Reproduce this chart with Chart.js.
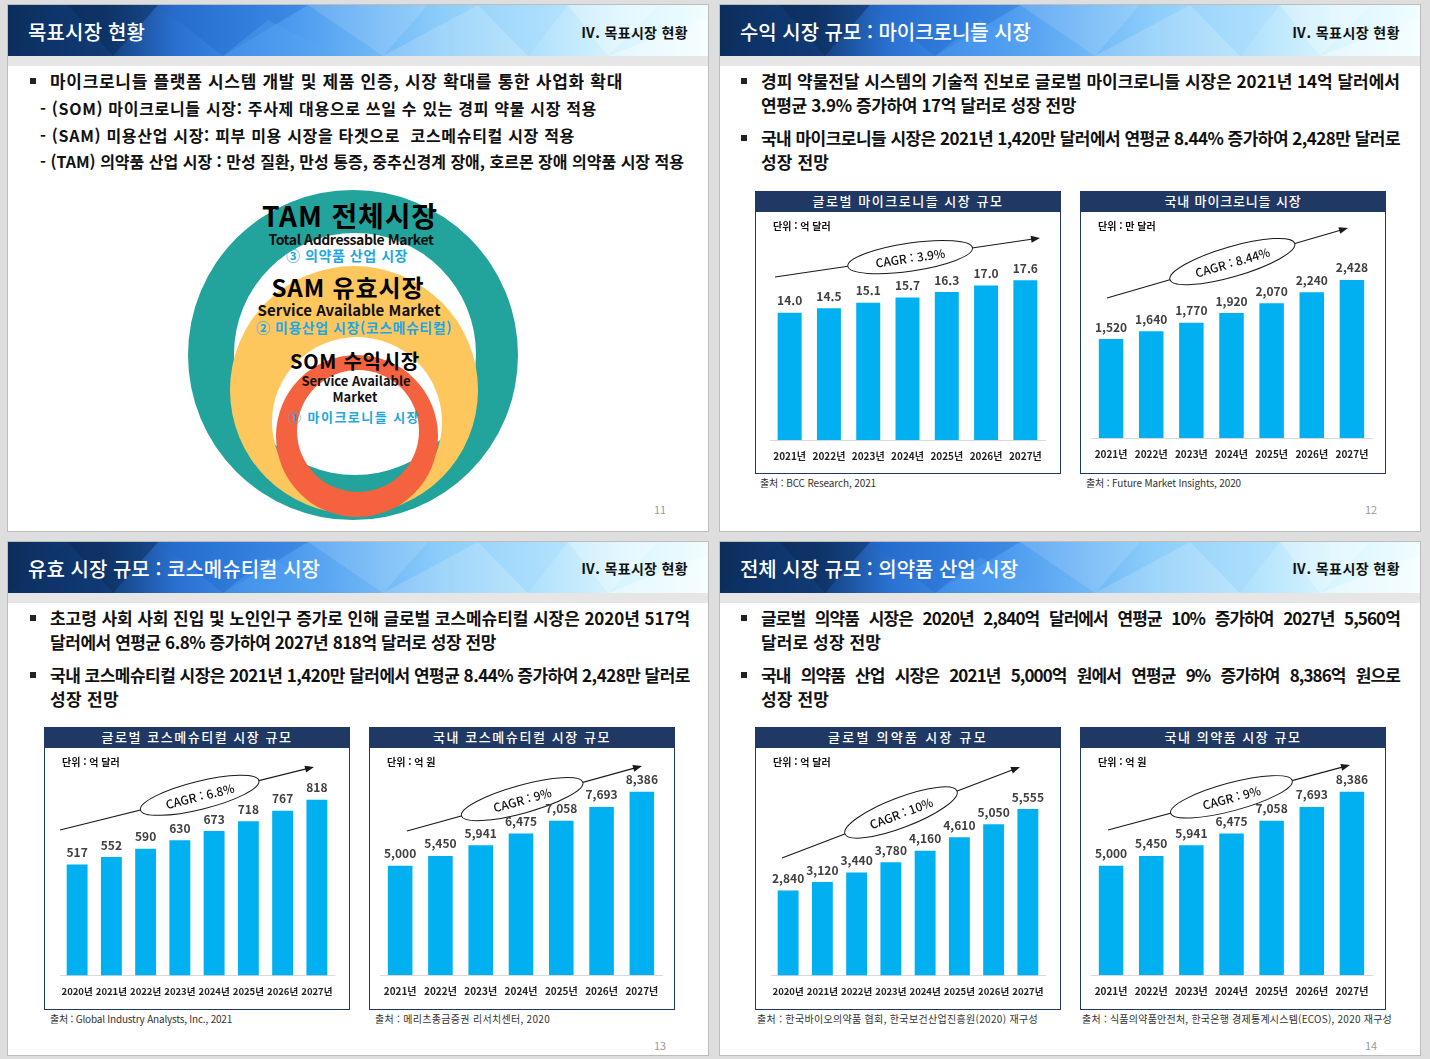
<!DOCTYPE html>
<html lang="ko">
<head>
<meta charset="utf-8">
<title>목표시장 현황</title>
<script src="https://cdn.jsdelivr.net/npm/chart.js@4.4.1/dist/chart.umd.min.js"></script>
<style>
html,body{margin:0;padding:0}
body{width:1430px;height:1059px;background:#dedede;position:relative;overflow:hidden;font-family:"Noto Sans CJK KR","Noto Sans",sans-serif;color:#111}
.panel{position:absolute;width:700px;background:#fff;box-shadow:0 0 0 1px #bdbdbd;overflow:hidden}
.hdr{position:absolute;left:0;top:0;width:700px;height:51px;overflow:hidden;background:linear-gradient(90deg,#0b2d5b 0%,#123f7c 14%,#2a70d0 24%,#3f8fec 36%,#62acf4 48%,#8ccdfa 62%,#b3e2fc 76%,#daf5fe 88%,#f0fdff 100%)}
.strip{position:absolute;left:0;top:51px;width:700px;height:10px;background:#e6e6e6}
.t{position:absolute;white-space:pre;line-height:1;z-index:5}
.bul{position:absolute;width:6px;height:6px;background:#222;z-index:5}
.box{position:absolute;width:306px;height:283px;box-sizing:border-box;border:1.5px solid #1f3864;background:#fff;z-index:3}
.boxt{position:absolute;left:0;top:0;right:0;height:20px;background:#1f3864}
canvas.cv{position:absolute;z-index:4}
svg.rings{position:absolute;left:0;top:0;z-index:2}
</style>
</head>
<body>
<script>
// ---------------- DATA ----------------
const yearsFrom2021 = ['2021년','2022년','2023년','2024년','2025년','2026년','2027년'];
const yearsFrom2020 = ['2020년','2021년','2022년','2023년','2024년','2025년','2026년','2027년'];
const microGlobalValues   = [14.0, 14.5, 15.1, 15.7, 16.3, 17.0, 17.6];
const microDomesticValues = [1520, 1640, 1770, 1920, 2070, 2240, 2428];
const cosmeGlobalValues   = [517, 552, 590, 630, 673, 718, 767, 818];
const cosmeDomesticValues = [5000, 5450, 5941, 6475, 7058, 7693, 8386];
const pharmaGlobalValues  = [2840, 3120, 3440, 3780, 4160, 4610, 5050, 5555];
const pharmaDomesticValues= [5000, 5450, 5941, 6475, 7058, 7693, 8386];
const cagrLabels = ['CAGR : 3.9%', 'CAGR : 8.44%', 'CAGR : 6.8%', 'CAGR : 9%', 'CAGR : 10%', 'CAGR : 9%'];
const boxTitles = ['글로벌 마이크로니들 시장 규모','국내 마이크로니들 시장','글로벌 코스메슈티컬 시장 규모','국내 코스메슈티컬 시장 규모','글로벌 의약품 시장 규모','국내 의약품 시장 규모'];
const unitLabels = ['단위 : 억 달러','단위 : 만 달러','단위 : 억 달러','단위 : 억 원','단위 : 억 달러','단위 : 억 원'];
const sourceLabels = ['출처 : BCC Research, 2021','출처 : Future Market Insights, 2020','출처 : Global Industry Analysts, Inc., 2021','출처 : 메리츠종금증권 리서치센터, 2020','출처 : 한국바이오의약품 협회, 한국보건산업진흥원(2020) 재구성','출처 : 식품의약품안전처, 한국은행 경제통계시스템(ECOS), 2020 재구성'];

// ---------------- LAYOUT ----------------
const body = document.body;
const panels = [[8,5,526],[720,5,526],[8,542,513],[720,542,513]];
const tris = [
  [[60,0],[150,0],[105,51],'#08264d',.45],[[0,51],[60,0],[105,51],'#0d3569',.35],
  [[150,0],[300,0],[215,51],'#1f66c8',.35],[[215,51],[260,15],[330,51],'#5aa6f2',.35],
  [[300,0],[420,0],[375,51],'#ffffff',.12],[[375,51],[470,0],[520,51],'#ffffff',.16],
  [[470,0],[560,0],[520,51],'#9fd8fb',.35],[[560,0],[650,0],[600,51],'#ffffff',.25],
  [[600,51],[700,12],[700,51],'#ffffff',.35]
];
panels.forEach(([x,y,h])=>{
  const p=document.createElement('div'); p.className='panel';
  p.style.left=x+'px'; p.style.top=y+'px'; p.style.height=h+'px';
  let svg='<svg width="700" height="51" xmlns="http://www.w3.org/2000/svg">';
  tris.forEach(t=>{svg+=`<polygon points="${t[0].join(',')} ${t[1].join(',')} ${t[2].join(',')}" fill="${t[3]}" opacity="${t[4]}"/>`;});
  svg+='</svg>';
  p.innerHTML='<div class="hdr">'+svg+'</div><div class="strip"></div>';
  body.appendChild(p);
});

// rings diagram (decorative)
function circ(cx,cy,r){return `M${cx-r},${cy} a${r},${r} 0 1,0 ${2*r},0 a${r},${r} 0 1,0 ${-2*r},0 Z `;}
const ringsSvg = `<svg class="rings" width="720" height="540" xmlns="http://www.w3.org/2000/svg">
<path fill-rule="evenodd" fill="#22a39b" d="${circ(353,355,165)}${circ(355,354,121)}"/>
<path fill-rule="evenodd" fill="#fec75e" d="${circ(354,390,124)}${circ(357,422,85)}"/>
<path fill-rule="evenodd" fill="#f4623f" d="${circ(357,436,81)}${circ(358,431,61)}"/>
</svg>`;
body.insertAdjacentHTML('beforeend', ringsSvg);

const fits=[];
function txt(s,x,yc,size,weight,color,endX,mode,extra){
  const d=document.createElement('div'); d.className='t'; d.textContent=s;
  d.style.left=x+'px'; d.style.top=(yc-size*0.55)+'px';
  d.style.fontSize=size+'px'; d.style.fontWeight=weight; d.style.color=color;
  if(extra) Object.assign(d.style,extra);
  body.appendChild(d);
  if(endX) fits.push([d,endX-x,mode]);
  return d;
}
function bul(x,yc){const b=document.createElement('div');b.className='bul';b.style.left=x+'px';b.style.top=(yc-3)+'px';body.appendChild(b);}
function ctr(s,cx,yc,size,weight,color,w){ // centered text fitted to width w
  return txt(s,cx-w/2,yc,size,weight,color,cx+w/2,'letter');
}

// Panel 1
txt('목표시장 현황',28,33,20,500,'#fff',145);
txt('Ⅳ. 목표시장 현황',581,33,14,700,'#111',688);
bul(30,81);
txt('마이크로니들 플랫폼 시스템 개발 및 제품 인증, 시장 확대를 통한 사업화 확대',50,81,17,700,'#111',623);
txt('- (SOM) 마이크로니들 시장: 주사제 대용으로 쓰일 수 있는 경피 약물 시장 적용',40,109,16,700,'#111',597);
txt('- (SAM) 미용산업 시장: 피부 미용 시장을 타겟으로  코스메슈티컬 시장 적용',40,136,16,700,'#111',575);
txt('- (TAM) 의약품 산업 시장 : 만성 질환, 만성 통증, 중추신경계 장애, 호르몬 장애 의약품 시장 적용',40,162,16,700,'#111',684);
ctr('TAM 전체시장',350,216,28,700,'#000',176);
ctr('Total Addressable Market',351,240,14,700,'#111',165);
ctr('③ 의약품 산업 시장',347,256,14,700,'#1ea7e1',122);
ctr('SAM 유효시장',348,288,24,700,'#000',153);
ctr('Service Available Market',349,310,15,700,'#111',183);
ctr('② 미용산업 시장(코스메슈티컬)',354,328,14,700,'#1ea7e1',196);
ctr('SOM 수익시장',355,362,20,700,'#000',130);
ctr('Service Available',356,381,13,700,'#111',109);
ctr('Market',355,397,13,700,'#111',45);
ctr('① 마이크로니들 시장',354,417,13,700,'#1ea7e1',132);
txt('11',654,510,11,400,'#9a9a9a');

// Panel 2
txt('수익 시장 규모 : 마이크로니들 시장',740,33,20,500,'#fff',1031);
txt('Ⅳ. 목표시장 현황',1292,33,14,700,'#111',1400);
bul(741,81); bul(741,138);
txt('경피 약물전달 시스템의 기술적 진보로 글로벌 마이크로니들 시장은 2021년 14억 달러에서',761,81,17,700,'#111',1400);
txt('연평균 3.9% 증가하여 17억 달러로 성장 전망',761,105,17,700,'#111',1076);
txt('국내 마이크로니들 시장은 2021년 1,420만 달러에서 연평균 8.44% 증가하여 2,428만 달러로',761,138,17,700,'#111',1400);
txt('성장 전망',761,162,17,700,'#111',829);
txt('12',1365,510,11,400,'#9a9a9a');

// Panel 3
txt('유효 시장 규모 : 코스메슈티컬 시장',28,570,20,500,'#fff',320);
txt('Ⅳ. 목표시장 현황',581,569,14,700,'#111',688);
bul(30,618); bul(30,675);
txt('초고령 사회 사회 진입 및 노인인구 증가로 인해 글로벌 코스메슈티컬 시장은 2020년 517억',50,618,17,700,'#111',690);
txt('달러에서 연평균 6.8% 증가하여 2027년 818억 달러로 성장 전망',50,642,17,700,'#111',496);
txt('국내 코스메슈티컬 시장은 2021년 1,420만 달러에서 연평균 8.44% 증가하여 2,428만 달러로',50,675,17,700,'#111',690);
txt('성장 전망',50,699,17,700,'#111',119);
txt('13',654,1046,11,400,'#9a9a9a');

// Panel 4
txt('전체 시장 규모 : 의약품 산업 시장',740,570,20,500,'#fff',1018);
txt('Ⅳ. 목표시장 현황',1292,569,14,700,'#111',1400);
bul(741,618); bul(741,675);
txt('글로벌 의약품 시장은 2020년 2,840억 달러에서 연평균 10% 증가하여 2027년 5,560억',761,618,17,700,'#111',1400,'word',{letterSpacing:'-0.9px'});
txt('달러로 성장 전망',761,642,17,700,'#111',881);
txt('국내 의약품 산업 시장은 2021년 5,000억 원에서 연평균 9% 증가하여 8,386억 원으로',761,675,17,700,'#111',1400,'word',{letterSpacing:'-0.9px'});
txt('성장 전망',761,699,17,700,'#111',829);
txt('14',1365,1046,11,400,'#9a9a9a');

// ---------------- CHART PLUGINS ----------------
const cagrArrow = {
  id:'cagrArrow',
  afterDatasetsDraw(chart,args,o){
    if(!o || !o.text) return;
    const a=chart.chartArea, ctx=chart.ctx;
    const x1=a.left+o.sx, y1=a.top+o.sy, x2=a.left+o.ex, y2=a.top+o.ey;
    const ang=Math.atan2(y2-y1,x2-x1), c=Math.cos(ang), s=Math.sin(ang);
    ctx.save();
    ctx.strokeStyle='#1a1a1a'; ctx.fillStyle='#1a1a1a'; ctx.lineWidth=1.2;
    ctx.beginPath(); ctx.moveTo(x1,y1); ctx.lineTo(x2-7*c,y2-7*s); ctx.stroke();
    ctx.beginPath(); ctx.moveTo(x2,y2);
    ctx.lineTo(x2-9*c+3.5*s, y2-9*s-3.5*c); ctx.lineTo(x2-9*c-3.5*s, y2-9*s+3.5*c); ctx.closePath(); ctx.fill();
    const cx=x1+(x2-x1)*o.t, cy=y1+(y2-y1)*o.t;
    ctx.translate(cx,cy); ctx.rotate(ang);
    ctx.beginPath(); ctx.ellipse(0,0,o.rx,o.ry,0,0,Math.PI*2);
    ctx.fillStyle='#fff'; ctx.fill(); ctx.lineWidth=1; ctx.stroke();
    ctx.fillStyle='#111'; ctx.font='500 12px "Noto Sans CJK KR"'; ctx.textAlign='center'; ctx.textBaseline='middle';
    ctx.fillText(o.text,0,1);
    ctx.restore();
  }
};
const valueLabels = {
  id:'valueLabels',
  afterDatasetsDraw(chart,args,o){
    const ctx=chart.ctx, meta=chart.getDatasetMeta(0), vals=chart.data.datasets[0].data;
    ctx.save(); ctx.font='bold 12px "Noto Sans CJK KR"'; ctx.fillStyle='#404040';
    ctx.textAlign='center'; ctx.textBaseline='bottom';
    meta.data.forEach((bar,i)=>{
      const v=vals[i];
      const s = o.format==='dec1' ? v.toFixed(1) : o.format==='comma' ? v.toLocaleString('en-US') : String(v);
      ctx.fillText(s, bar.x, bar.y-6);
    });
    ctx.restore();
  }
};

// chart specs: box position, target chart area (page px), y max, arrow geometry (relative to chart area)
const specs = [
  {box:[755,191], labels:yearsFrom2021, values:microGlobalValues,   fmt:'dec1',  area:[770,1045,232,440], max:22.9,
   cagr:{sx:5,sy:45,ex:270,ey:6,t:0.51,rx:63,ry:14}, src:[760,483,876]},
  {box:[1080,191], labels:yearsFrom2021, values:microDomesticValues, fmt:'comma', area:[1091,1372,232,438], max:3164,
   cagr:{sx:16,sy:66,ex:257,ey:-4,t:0.52,rx:65,ry:15}, src:[1086,483,1241]},
  {box:[44,727], labels:yearsFrom2020, values:cosmeGlobalValues,    fmt:'plain', area:[60,334,768,975], max:966,
   cagr:{sx:0,sy:62,ex:254,ey:-1,t:0.55,rx:61,ry:14}, src:[50,1019,232]},
  {box:[369,727], labels:yearsFrom2021, values:cosmeDomesticValues,  fmt:'comma', area:[380,662,768,975], max:9474,
   cagr:{sx:27,sy:63,ex:262,ey:-2,t:0.49,rx:63,ry:14}, src:[375,1019,550]},
  {box:[755,727], labels:yearsFrom2020, values:pharmaGlobalValues,   fmt:'comma', area:[771,1045,768,975], max:6923,
   cagr:{sx:11,sy:90,ex:249,ey:-1,t:0.5,rx:60,ry:15}, src:[757,1019,1038]},
  {box:[1080,727], labels:yearsFrom2021, values:pharmaDomesticValues, fmt:'comma', area:[1091,1372,768,975], max:9474,
   cagr:{sx:17,sy:62,ex:259,ey:-3,t:0.51,rx:63,ry:14}, src:[1082,1019,1392]}
];

specs.forEach((s,i)=>{
  const [bx,by]=s.box;
  const b=document.createElement('div'); b.className='box'; b.style.left=bx+'px'; b.style.top=by+'px';
  b.innerHTML='<div class="boxt"></div>'; body.appendChild(b);
  const tw = [191,137,191,178,160,137][i];
  const t=ctr(boxTitles[i], bx+153, by+10, 13, 500, '#fff', tw); t.style.zIndex=6;
  txt(unitLabels[i], bx+18, by+35, 10, 700, '#111').style.zIndex=6;
  txt(sourceLabels[i], s.src[0], s.src[1], 10, 400, '#333', s.src[2]);

  const cvLeft=bx+2, cvTop=by+21, cvW=302, cvH=260;
  const cv=document.createElement('canvas'); cv.className='cv';
  cv.width=cvW; cv.height=cvH; cv.style.left=cvLeft+'px'; cv.style.top=cvTop+'px';
  body.appendChild(cv);
  const [aL,aR,aT,aB]=s.area;
  const axisH=32;
  const tickSize = s.labels.length > 7 ? 9.5 : 10;
  new Chart(cv,{
    type:'bar',
    data:{labels:s.labels, datasets:[{data:s.values, backgroundColor:'#00b0f0', barPercentage:0.61, categoryPercentage:1}]},
    options:{
      responsive:false, animation:false, devicePixelRatio:1,
      layout:{padding:{left:aL-cvLeft, right:cvW-(aR-cvLeft), top:aT-cvTop, bottom:Math.max(0,cvH-(aB-cvTop)-axisH)}},
      plugins:{legend:{display:false}, tooltip:{enabled:false}, title:{display:false},
        valueLabels:{format:s.fmt},
        cagrArrow:Object.assign({text:cagrLabels[i]}, s.cagr)},
      scales:{
        x:{grid:{display:false,drawTicks:false}, border:{display:true,color:'#d9d9d9',width:1},
           ticks:{padding:10,color:'#222',autoSkip:false,maxRotation:0,font:{family:'"Noto Sans CJK KR"',size:tickSize,weight:'bold'}}},
        y:{display:false,min:0,max:s.max}
      }
    },
    plugins:[cagrArrow,valueLabels]
  });
});

// fit text widths
fits.forEach(([el,target,mode])=>{
  const w=el.getBoundingClientRect().width;
  if(mode==='word'){
    const n=(el.textContent.match(/ /g)||[]).length;
    if(n) el.style.wordSpacing=((target-w)/n)+'px';
  } else {
    const n=[...el.textContent].length;
    el.style.letterSpacing=((target-w)/n)+'px';
  }
});
</script>
</body>
</html>
